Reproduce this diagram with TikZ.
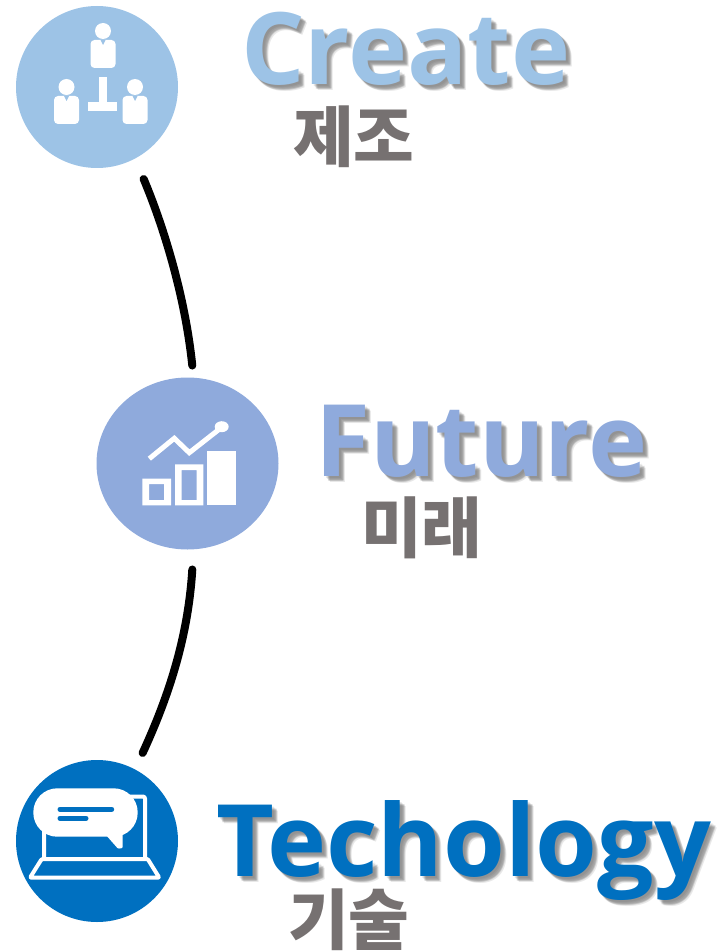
\documentclass[tikz,border=0pt]{standalone}
\usepackage{xcolor}
\usepackage{fontspec}
\usetikzlibrary{shapes.geometric}
\setmainfont{Open Sans}
\newfontfamily\krfont{Noto Sans CJK KR}
\definecolor{createblue}{RGB}{157,195,230}
\definecolor{futureblue}{RGB}{143,170,220}
\definecolor{techblue}{RGB}{0,112,192}
\definecolor{labelgray}{RGB}{118,113,113}
\definecolor{shadowgray}{RGB}{90,90,90}
\tikzset{
  badge/.style={circle, inner sep=0pt, minimum size=162pt},
  headword/.style={anchor=base west, inner sep=0pt, font=\bfseries\fontsize{100}{100}\selectfont},
  blur/.style={headword, text=shadowgray, opacity=0.14},
  sublabel/.style={anchor=base west, inner sep=0pt, text=labelgray, font=\krfont\bfseries\fontsize{66}{66}\selectfont},
  link/.style={line width=8pt, line cap=round, black},
  iconline/.style={draw=white, line width=4pt, line join=round}
}
\begin{document}
\begin{tikzpicture}[x=1pt,y=-1pt]
\useasboundingbox (0,0) rectangle (722,952);

% Three badges
\node[badge, fill=createblue] (create) at (97,87) {};
\node[ellipse, inner sep=0pt, minimum width=182pt, minimum height=172pt, fill=futureblue] (future) at (187.5,463.5) {};
\node[badge, fill=techblue] (tech) at (97,841) {};

% Links between badges
\draw[link, shorten <=22pt, shorten >=12pt] (create.-62) .. controls (163,225) and (185,295) .. (future.86);
\draw[link, shorten <=20pt, shorten >=18pt] (future.-86) .. controls (188,640) and (167,700) .. (tech.62);

% People icon
\foreach \px/\py in {103/31, 66.5/87, 135/87} {
  \fill[white] (\px,\py) circle (8);
  \fill[white, rounded corners=4pt] (\px-12.5,\py+9) rectangle (\px+12.5,\py+37);
  \fill[createblue] (\px-2.5,\py+9) -- (\px+2.5,\py+9) -- (\px,\py+14) -- cycle;
}
\fill[white] (99,77) rectangle (107,102);
\fill[white] (88,102) rectangle (117,111);

% Chart icon
\fill[white, even odd rule] (142.3,478.7) rectangle (171,505.3) (149,484) rectangle (164,500);
\fill[white, even odd rule] (175,464.3) rectangle (203.3,505.3) (181.7,470) rectangle (196.7,500);
\fill[white] (207.3,451) rectangle (235.7,505.3);
\draw[white, line width=5pt] (149.3,458.7) -- (174.3,438.3) -- (189.3,452.7) -- (221.7,427.3);
\fill[white] (221.7,426.7) ellipse (7 and 5.5);

% Laptop icon
\draw[iconline, rounded corners=2pt] (44,858.5) -- (44,796.5) -- (145,796.5) -- (145,858.5);
\draw[iconline, rounded corners=1pt] (41.7,859) -- (30,877.7) -- (159.3,877.7) -- (147.7,859) -- cycle;
\fill[white, rounded corners=24pt] (33.3,788.3) rectangle (137.7,836.7);
\fill[white, rounded corners=1pt] (106,835) -- (118,848.7) -- (122.7,848) -- (122.7,833) -- cycle;
\draw[techblue, line width=5pt, line cap=round] (60,809.3) -- (111.7,809.3);
\draw[techblue, line width=5pt, line cap=round] (60,818.3) -- (86,818.3);

% Soft shadows under the headwords
\foreach \dx/\dy [count=\i] in {2/2, 3/3, 4/4, 5/5, 4/5, 5/4, 6/6} {
  \node[blur] (createblur\i) at (241+\dx,85+\dy) {Create};
  \node[blur] (futureblur\i) at (315+\dx,476+\dy) {Future};
  \node[blur] (techblur\i) at (216+\dx,876+\dy) {Techology};
}

% Headwords and Korean labels
\node[headword, text=createblue] (createword) at (241,85) {Create};
\node[sublabel] (createlabel) at (293,161) {제조};
\node[headword, text=futureblue] (futureword) at (315,476) {Future};
\node[sublabel] (futurelabel) at (361,552) {미래};
\node[headword, text=techblue] (techword) at (216,876) {Techology};
\node[sublabel] (techlabel) at (288,944) {기술};
\end{tikzpicture}
\end{document}
